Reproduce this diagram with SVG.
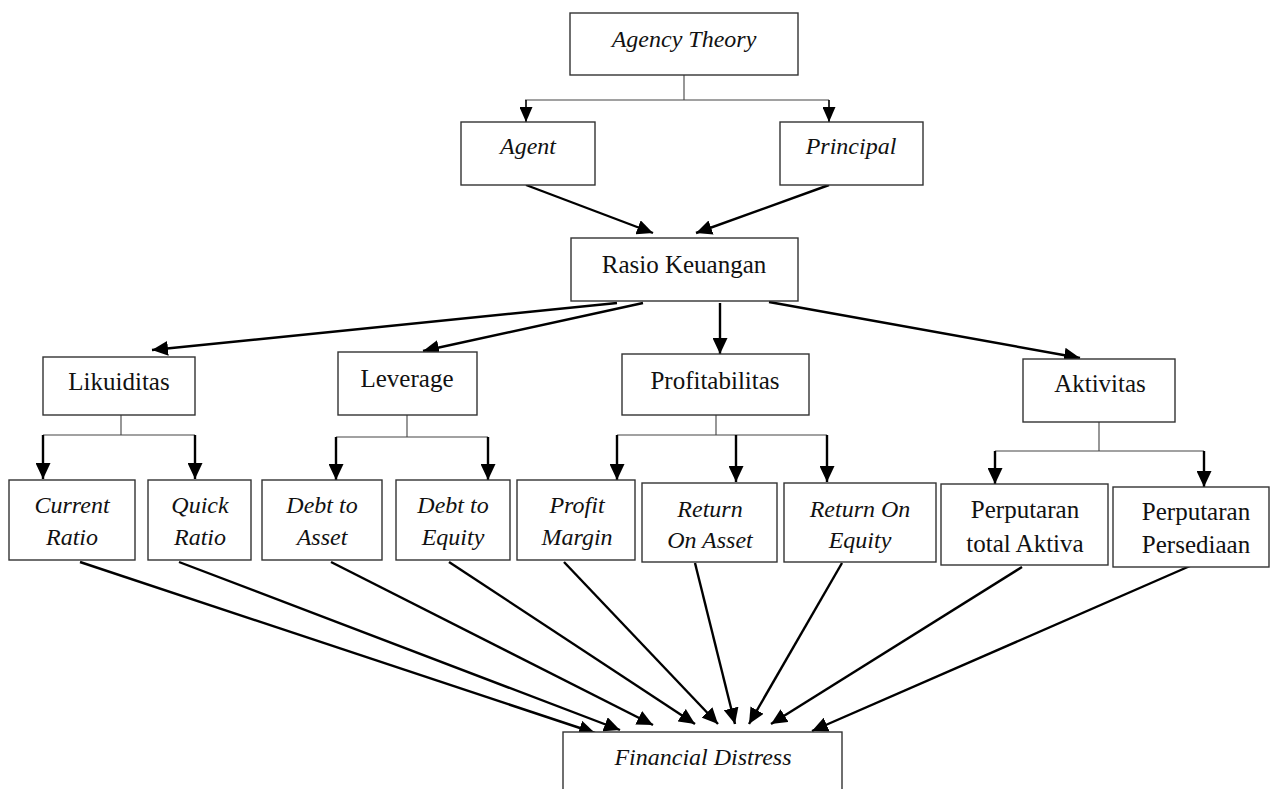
<svg xmlns="http://www.w3.org/2000/svg" width="1274" height="789" viewBox="0 0 1274 789">
<defs>
<marker id="ah" markerUnits="userSpaceOnUse" markerWidth="17" markerHeight="15" refX="16" refY="7.5" orient="auto"><path d="M0,0 L16,7.5 L0,15 z" fill="#000"/></marker>
<marker id="ahs" markerUnits="userSpaceOnUse" markerWidth="16" markerHeight="13" refX="15" refY="6.5" orient="auto"><path d="M0,0 L15,6.5 L0,13 z" fill="#000"/></marker>
<style>
.box{fill:#fff;stroke:#333;stroke-width:1.4}
.t{font-family:"Liberation Serif","DejaVu Serif",serif;font-size:25px;fill:#111;text-anchor:middle}
.i{font-family:"Liberation Serif","DejaVu Serif",serif;font-style:italic;font-size:24px;fill:#111;text-anchor:middle}
.thin{fill:none;stroke:#444;stroke-width:1.1}
.arr{fill:none;stroke:#000;stroke-width:2.4;marker-end:url(#ah)}
.arrs{fill:none;stroke:#000;stroke-width:1.6;marker-end:url(#ahs)}
</style>
</defs>
<rect width="1274" height="789" fill="#fff"/>
<g id="connectors">
<path class="thin" d="M684,75 V100 M525,100 H829"/>
<path class="arrs" d="M526,100 V122"/>
<path class="arrs" d="M829,100 V122"/>
<path class="arr" d="M526,185 L653,233"/>
<path class="arr" d="M829,185 L696,233"/>
<path class="arr" d="M617,303 L152,350"/>
<path class="arr" d="M643,303 L423,351"/>
<path class="arr" d="M720,303 V354"/>
<path class="arr" d="M769,302 L1080,358"/>
<path class="thin" d="M121,415 V435 M43,435 H195"/>
<path class="arr" d="M43,435 V479"/>
<path class="arr" d="M195,435 V479"/>
<path class="thin" d="M407,415 V437 M336,437 H488"/>
<path class="arr" d="M336,437 V480"/>
<path class="arr" d="M488,437 V480"/>
<path class="thin" d="M716,415 V435 M617,435 H827"/>
<path class="arr" d="M617,435 V480"/>
<path class="arr" d="M736,435 V482"/>
<path class="arr" d="M827,435 V482"/>
<path class="thin" d="M1099,422 V451 M995,451 H1204"/>
<path class="arr" d="M995,451 V484"/>
<path class="arr" d="M1204,451 V487"/>
<path class="arr" d="M80,562 L595,733"/>
<path class="arr" d="M179,562 L620,730"/>
<path class="arr" d="M331,562 L653,725"/>
<path class="arr" d="M449,562 L695,724"/>
<path class="arr" d="M564,562 L718,724"/>
<path class="arr" d="M695,563 L735,724"/>
<path class="arr" d="M842,563 L749,724"/>
<path class="arr" d="M1022,567 L771,724"/>
<path class="arr" d="M1190,566 L812,731"/>
</g>
<g id="agency-theory"><rect class="box" x="570" y="13" width="228" height="62"/><text class="i" x="684" y="47">Agency Theory</text></g>
<g id="agent"><rect class="box" x="461" y="122" width="134" height="63"/><text class="i" x="528" y="154">Agent</text></g>
<g id="principal"><rect class="box" x="780" y="122" width="143" height="63"/><text class="i" x="851" y="154">Principal</text></g>
<g id="rasio-keuangan"><rect class="box" x="571" y="238" width="227" height="63"/><text class="t" x="684" y="273">Rasio Keuangan</text></g>
<g id="likuiditas"><rect class="box" x="43" y="357" width="152" height="58"/><text class="t" x="119" y="390">Likuiditas</text></g>
<g id="leverage"><rect class="box" x="338" y="352" width="139" height="63"/><text class="t" x="407" y="387">Leverage</text></g>
<g id="profitabilitas"><rect class="box" x="622" y="354" width="187" height="61"/><text class="t" x="715" y="389">Profitabilitas</text></g>
<g id="aktivitas"><rect class="box" x="1023" y="359" width="152" height="63"/><text class="t" x="1100" y="392">Aktivitas</text></g>
<g id="current-ratio"><rect class="box" x="9" y="480" width="126" height="80"/><text class="i" x="72" y="513">Current</text><text class="i" x="72" y="545">Ratio</text></g>
<g id="quick-ratio"><rect class="box" x="148" y="480" width="103" height="80"/><text class="i" x="200" y="513">Quick</text><text class="i" x="200" y="545">Ratio</text></g>
<g id="debt-to-asset"><rect class="box" x="262" y="480" width="120" height="80"/><text class="i" x="322" y="513">Debt to</text><text class="i" x="322" y="545">Asset</text></g>
<g id="debt-to-equity"><rect class="box" x="396" y="480" width="114" height="80"/><text class="i" x="453" y="513">Debt to</text><text class="i" x="453" y="545">Equity</text></g>
<g id="profit-margin"><rect class="box" x="517" y="480" width="118" height="80"/><text class="i" x="577" y="513">Profit</text><text class="i" x="577" y="545">Margin</text></g>
<g id="return-on-asset"><rect class="box" x="642" y="483" width="135" height="79"/><text class="i" x="710" y="517">Return</text><text class="i" x="710" y="548">On Asset</text></g>
<g id="return-on-equity"><rect class="box" x="784" y="483" width="152" height="79"/><text class="i" x="860" y="517">Return On</text><text class="i" x="860" y="548">Equity</text></g>
<g id="perputaran-total-aktiva"><rect class="box" x="941" y="484" width="167" height="81"/><text class="t" x="1025" y="518">Perputaran</text><text class="t" x="1025" y="552">total Aktiva</text></g>
<g id="perputaran-persediaan"><rect class="box" x="1113" y="487" width="156" height="80"/><text class="t" x="1196" y="520">Perputaran</text><text class="t" x="1196" y="553">Persediaan</text></g>
<g id="financial-distress"><rect class="box" x="563" y="732" width="279" height="80"/><text class="i" x="703" y="765">Financial Distress</text></g>
</svg>
